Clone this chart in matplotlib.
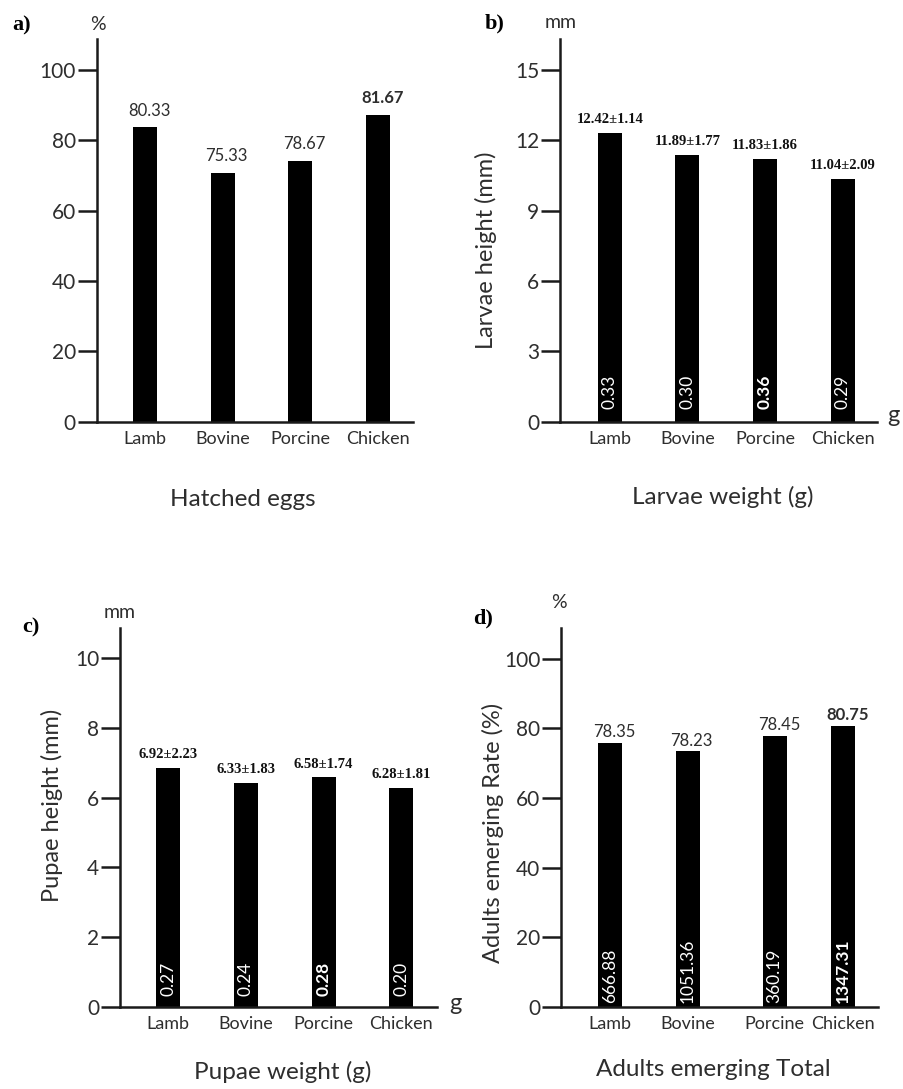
import matplotlib
matplotlib.use("Agg")
import matplotlib.pyplot as plt

# data
categories = ["Lamb", "Bovine", "Porcine", "Chicken"]

# a) hatched eggs (%): drawn bar heights and printed labels
hatched_bars = [83.8, 70.8, 74.2, 87.3]
hatched_labels = ["80.33", "75.33", "78.67", "81.67"]

# b) larvae height (mm) and weight (g)
larvae_bars = [12.3, 11.39, 11.22, 10.35]
larvae_labels = ["12.42±1.14", "11.89±1.77", "11.83±1.86", "11.04±2.09"]
larvae_weight = ["0.33", "0.30", "0.36", "0.29"]

# c) pupae height (mm) and weight (g)
pupae_bars = [6.85, 6.41, 6.58, 6.28]
pupae_labels = ["6.92±2.23", "6.33±1.83", "6.58±1.74", "6.28±1.81"]
pupae_weight = ["0.27", "0.24", "0.28", "0.20"]

# d) adults emerging rate (%) and total
adults_bars = [75.9, 73.4, 77.9, 80.7]
adults_labels = ["78.35", "78.23", "78.45", "80.75"]
adults_total = ["666.88", "1051.36", "360.19", "1347.31"]

W, H = 904, 1089
SANS = ["Lato", "DejaVu Sans"]
SERIF = ["Liberation Serif", "DejaVu Serif"]
TXT = "#2e2e2e"

plt.rcParams["font.family"] = SANS

fig = plt.figure(figsize=(W / 100, H / 100), dpi=100)


def fx(x):
    return x / W


def fy(y):
    return 1 - y / H


def panel(left, right, top, bottom, xlim, ymax, yticks, xpos, bars,
          top_labels, top_serif, top_bold, top_off, in_labels=None, in_bold=(), in_off=8):
    ax = fig.add_axes([fx(left), fy(bottom), fx(right - left), (bottom - top) / H])
    ax.bar(xpos, bars, width=0.31, color="black")
    ax.set_xlim(*xlim)
    ax.set_ylim(0, ymax)
    for s in ["top", "right"]:
        ax.spines[s].set_visible(False)
    for s in ["left", "bottom"]:
        ax.spines[s].set_linewidth(1.8)
        ax.spines[s].set_color("#1a1a1a")
    ax.set_yticks(yticks)
    ax.tick_params(axis="y", direction="out", length=14, width=1.8, pad=1,
                   labelsize=15, labelcolor=TXT, color="#1a1a1a")
    ax.set_xticks(xpos)
    ax.set_xticklabels(categories)
    ax.tick_params(axis="x", length=0, pad=7, labelsize=13, labelcolor=TXT)
    for i, (x, h, t) in enumerate(zip(xpos, bars, top_labels)):
        if top_serif:
            ax.annotate(t, (x, h), xytext=(0, top_off), textcoords="offset points",
                        ha="center", va="bottom", fontsize=10.5, fontweight="bold",
                        family=SERIF, color="#111111")
        else:
            ax.annotate(t, (x, h), xytext=(3, top_off), textcoords="offset points",
                        ha="center", va="bottom", fontsize=12,
                        fontweight="bold" if i in top_bold else "normal", color=TXT)
    if in_labels is not None:
        for i, (x, t) in enumerate(zip(xpos, in_labels)):
            ax.annotate(t, (x, 0), xytext=(0, in_off), textcoords="offset points",
                        ha="center", va="bottom", rotation=90, fontsize=12.5,
                        fontweight="bold" if i in in_bold else "normal",
                        color="white")
    return ax


# a)
panel(96.7, 413, 39, 421.7, (-0.62, 3.45), 108.8, [0, 20, 40, 60, 80, 100],
      [0, 1, 2, 3], hatched_bars, hatched_labels, False, (3,), 6)
fig.text(fx(22), fy(25), "a)", family=SERIF, fontweight="bold", fontsize=16,
         ha="center", va="center")
fig.text(fx(98), fy(25), "%", fontsize=14, ha="center", va="center", color=TXT)
fig.text(fx(243), fy(500), "Hatched eggs", fontsize=17.5, ha="center", va="center", color=TXT)

# b)
panel(560, 877, 39, 421.7, (-0.64, 3.44), 16.32, [0, 3, 6, 9, 12, 15],
      [0, 1, 2, 3], larvae_bars, larvae_labels, True, (), 5, larvae_weight, (2,), 9)
fig.text(fx(495), fy(23), "b)", family=SERIF, fontweight="bold", fontsize=16,
         ha="center", va="center")
fig.text(fx(561), fy(23), "mm", fontsize=14, ha="center", va="center", color=TXT)
fig.text(fx(893), fy(416), "g", fontsize=17, ha="center", va="center", color=TXT)
fig.text(fx(486), fy(250), "Larvae height (mm)", fontsize=17, rotation=90,
         ha="center", va="center", color=TXT)
fig.text(fx(723), fy(497), "Larvae weight (g)", fontsize=17.5, ha="center", va="center", color=TXT)

# c)
panel(120, 437, 628, 1006.7, (-0.62, 3.46), 10.87, [0, 2, 4, 6, 8, 10],
      [0, 1, 2, 3], pupae_bars, pupae_labels, True, (), 5, pupae_weight, (2,), 8)
fig.text(fx(31), fy(627), "c)", family=SERIF, fontweight="bold", fontsize=16,
         ha="center", va="center")
fig.text(fx(120), fy(613), "mm", fontsize=14, ha="center", va="center", color=TXT)
fig.text(fx(455), fy(1003), "g", fontsize=17, ha="center", va="center", color=TXT)
fig.text(fx(52), fy(805), "Pupae height (mm)", fontsize=17, rotation=90,
         ha="center", va="center", color=TXT)
fig.text(fx(283), fy(1072), "Pupae weight (g)", fontsize=17.5, ha="center", va="center", color=TXT)

# d)
panel(561, 878, 628, 1006.7, (-0.63, 3.45), 108.9, [0, 20, 40, 60, 80, 100],
      [0, 1, 2.12, 3], adults_bars, adults_labels, False, (3,), 2, adults_total, (3,), 3)
fig.text(fx(483), fy(618), "d)", family=SERIF, fontweight="bold", fontsize=16,
         ha="center", va="center")
fig.text(fx(559), fy(603), "%", fontsize=14, ha="center", va="center", color=TXT)
fig.text(fx(493), fy(833), "Adults emerging Rate (%)", fontsize=17, rotation=90,
         ha="center", va="center", color=TXT)
fig.text(fx(713), fy(1070), "Adults emerging Total", fontsize=17.5, ha="center", va="center", color=TXT)

fig.savefig("out.png", dpi=100)
